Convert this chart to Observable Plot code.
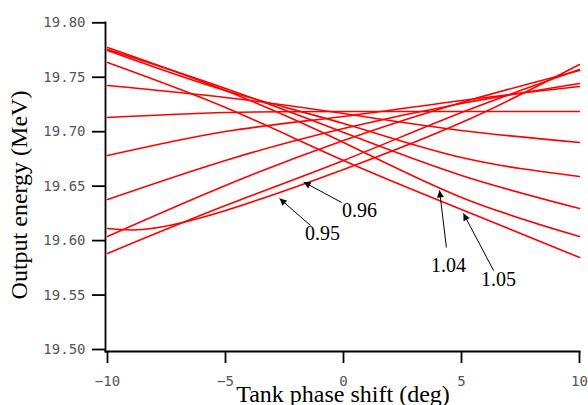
<!DOCTYPE html>
<html><head><meta charset="utf-8">
<script src="https://cdn.jsdelivr.net/npm/d3@7"></script>
<script src="https://cdn.jsdelivr.net/npm/@observablehq/plot@0.6"></script>
<style>html,body{margin:0;padding:0;background:#fff;overflow:hidden}</style>
</head><body><div id="chart"></div>
<script>
// Tank phase shift (deg) sample positions
const phase = [-10, -5, 0, 5, 10];
const phase095 = [-10, -8.5, -6, -2.7, 0, 5, 10];
// Output energy (MeV) per tank amplitude factor
const amp095 = [19.6111, 19.6102, 19.6212, 19.6442, 19.6653, 19.7084, 19.7617];
const amp096 = [19.5882, 19.6322, 19.6736, 19.7176, 19.7571];
const amp097 = [19.6038, 19.6506, 19.6919, 19.7268, 19.7562];
const amp098 = [19.6377, 19.6736, 19.7029, 19.7259, 19.7443];
const amp099 = [19.6781, 19.7002, 19.7140, 19.7287, 19.7415];
const amp100 = [19.7130, 19.7176, 19.7185, 19.7185, 19.7185];
const amp101 = [19.7424, 19.7314, 19.7167, 19.7011, 19.6901];
const amp102 = [19.7746, 19.7378, 19.7075, 19.6763, 19.6589];
const amp103 = [19.7755, 19.7397, 19.6993, 19.6598, 19.6295];
const amp104 = [19.7773, 19.7378, 19.6901, 19.6396, 19.6038];
const amp105 = [19.7635, 19.7222, 19.6736, 19.6286, 19.5845];
const ampNames = ["0.95","0.96","0.97","0.98","0.99","1.00","1.01","1.02","1.03","1.04","1.05"];
const ampValues = [amp095, amp096, amp097, amp098, amp099, amp100, amp101, amp102, amp103, amp104, amp105];
const ampPhases = [phase095, phase, phase, phase, phase, phase, phase, phase, phase, phase, phase];

const yTicks = [19.50, 19.55, 19.60, 19.65, 19.70, 19.75, 19.80];
const xTicks = [-10, -5, 0, 5, 10];
const xTitle = "Tank phase shift (deg)";
const yTitle = "Output energy (MeV)";

// annotations
const noteText = ["0.95", "0.96", "1.04", "1.05"];
const noteX = [-0.89, 0.68, 4.45, 6.57];
const noteY = [19.606, 19.628, 19.577, 19.564];
const arrowFromX = [-1.40, -0.08, 4.36, 6.36];
const arrowFromY = [19.6139, 19.6350, 19.5937, 19.5725];
const arrowToX = [-2.71, -1.69, 4.07, 5.08];
const arrowToY = [19.6387, 19.6538, 19.6460, 19.6250];

const rows = ampNames.flatMap((s, i) => ampPhases[i].map((x, j) => ({s, x, y: ampValues[i][j]})));
const notes = noteText.map((t, i) => ({t, x: noteX[i], y: noteY[i]}));
const arrows = noteText.map((t, i) => ({x1: arrowFromX[i], y1: arrowFromY[i], x2: arrowToX[i], y2: arrowToY[i]}));

const chart = Plot.plot({
  width: 588, height: 405,
  marginLeft: 105, marginRight: 9, marginTop: 22, marginBottom: 54,
  x: {domain: [-10, 10], range: [107, 579]},
  y: {domain: [19.5, 19.8], range: [349, 22.3]},
  style: {background: "white", overflow: "visible"},
  marks: [
    Plot.frame({anchor: "left", stroke: "black", strokeWidth: 1.8}),
    Plot.frame({anchor: "bottom", stroke: "black", strokeWidth: 1.8}),
    Plot.axisY(yTicks, {tickSize: 13, tickPadding: 7, tickFormat: ".2f", fontFamily: "DejaVu Sans Mono", fontSize: 14, strokeWidth: 1.8, label: null}),
    Plot.axisX(xTicks, {tickSize: 12, tickPadding: 13, tickFormat: d => d < 0 ? "\u2212" + Math.abs(d) : String(d), fontFamily: "DejaVu Sans Mono", fontSize: 14, strokeWidth: 1.8, label: null}),
    Plot.line(rows, {x: "x", y: "y", z: "s", stroke: "#ff0000", strokeWidth: 1.6, curve: "natural"}),
    Plot.link(arrows, {x1: "x1", y1: "y1", x2: "x2", y2: "y2", stroke: "black", strokeWidth: 1}),
    Plot.text(notes, {x: "x", y: "y", text: "t", fontFamily: "Liberation Serif", fontSize: 20, fill: "black"})
  ]
});
document.getElementById("chart").appendChild(chart);

const svg = d3.select(chart);
svg.selectAll('g[aria-label="y-axis tick label"], g[aria-label="x-axis tick label"]').attr("fill", "#555");
svg.selectAll('g[aria-label="y-axis tick label"] text, g[aria-label="x-axis tick label"] text').attr("fill", "#555");
// axis titles
svg.append("text").text(xTitle)
  .attr("x", 343).attr("y", 402).attr("text-anchor", "middle")
  .attr("font-family", "Liberation Serif").attr("font-size", 24).attr("fill", "black");
svg.append("text").text(yTitle)
  .attr("transform", "translate(27,195) rotate(-90)").attr("text-anchor", "middle")
  .attr("font-family", "Liberation Serif").attr("font-size", 24).attr("fill", "black");
// filled arrow heads
const defs = svg.append("defs");
defs.append("marker").attr("id", "ahead").attr("viewBox", "0 0 10 10")
  .attr("refX", 10).attr("refY", 5).attr("markerUnits", "userSpaceOnUse")
  .attr("markerWidth", 10).attr("markerHeight", 7).attr("orient", "auto")
  .append("path").attr("d", "M0,0L10,5L0,10z").attr("fill", "black");
svg.selectAll('g[aria-label="link"] path, g[aria-label="link"] line').attr("marker-end", "url(#ahead)");
</script>
</body></html>
